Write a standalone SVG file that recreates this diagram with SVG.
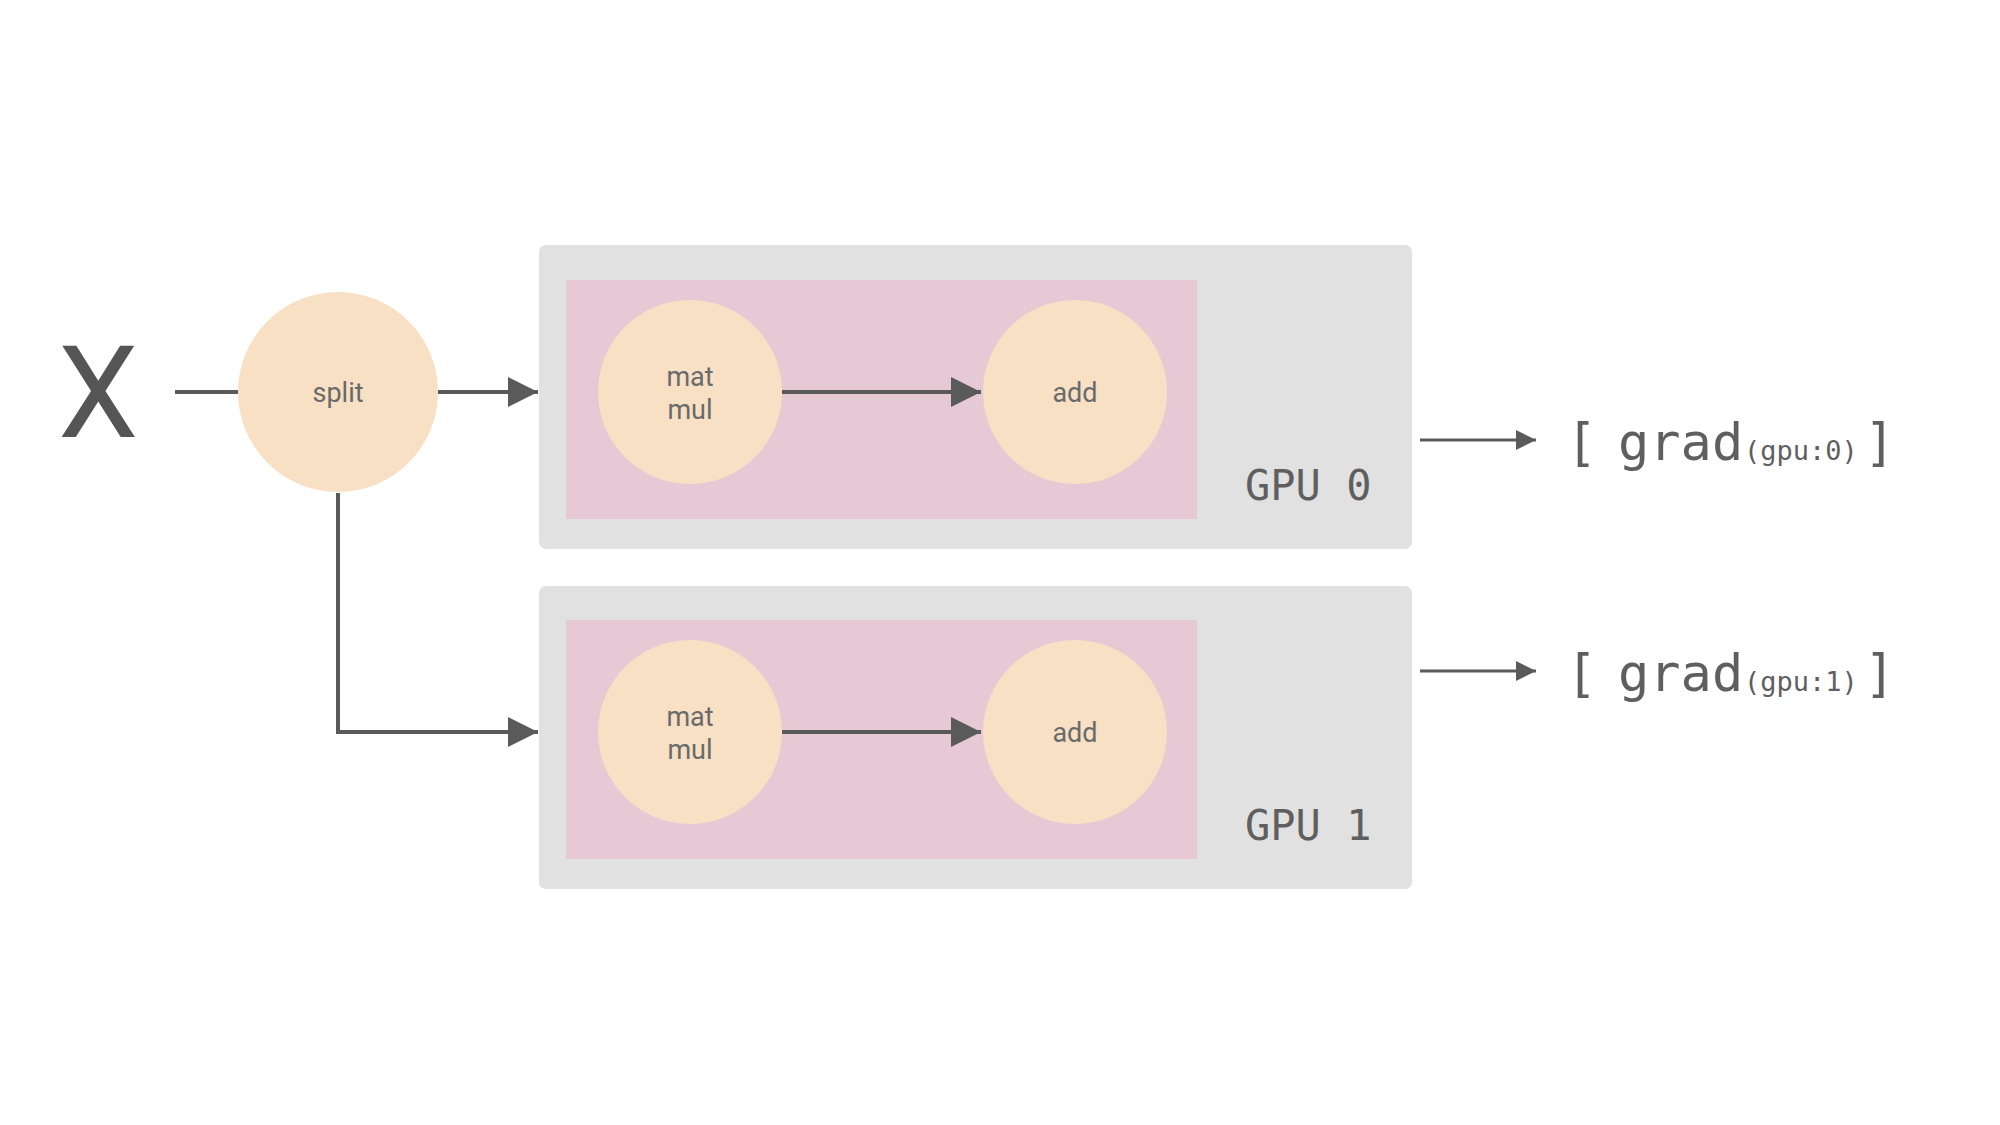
<svg xmlns="http://www.w3.org/2000/svg" width="2000" height="1125" viewBox="0 0 2000 1125">
<defs>
<style>
.gbox{fill:#e1e1e1}
.pbox{fill:#e7c9d5}
.node{fill:#f8e0c5}
.lbl{font-family:Roboto,"Open Sans",sans-serif;font-size:27px;fill:#6a6a6a;text-anchor:middle}
.mono{font-family:"DejaVu Sans Mono","Liberation Mono",monospace;fill:#5f5f5f}
.conn{stroke:#5a5a5a;stroke-width:4;fill:none}
.thin{stroke:#5a5a5a;stroke-width:3;fill:none}
</style>
<marker id="ah" viewBox="0 0 10 10" refX="10" refY="5" markerUnits="userSpaceOnUse" markerWidth="38" markerHeight="30" orient="auto">
<path d="M0,0 L10,5 L0,10 Z" fill="#5a5a5a"/>
</marker>
<marker id="ahs" viewBox="0 0 10 10" refX="10" refY="5" markerUnits="userSpaceOnUse" markerWidth="28" markerHeight="20" orient="auto">
<path d="M0,0 L10,5 L0,10 Z" fill="#5a5a5a"/>
</marker>
</defs>
<rect width="2000" height="1125" fill="#ffffff"/>

<g id="gpu0">
<rect class="gbox" x="539" y="245" width="873" height="304" rx="7"/>
<rect class="pbox" x="566" y="280" width="631" height="239"/>
<text class="mono" x="1245" y="500" font-size="42">GPU 0</text>
</g>
<g id="gpu1">
<rect class="gbox" x="539" y="586" width="873" height="303" rx="7"/>
<rect class="pbox" x="566" y="620" width="631" height="239"/>
<text class="mono" x="1245" y="840" font-size="42">GPU 1</text>
</g>

<g id="connectors">
<line class="conn" x1="175" y1="392" x2="238" y2="392"/>
<line class="conn" x1="438" y1="392" x2="538" y2="392" marker-end="url(#ah)"/>
<polyline class="conn" points="338,493 338,732 538,732" marker-end="url(#ah)"/>
<line class="conn" x1="782" y1="392" x2="981" y2="392" marker-end="url(#ah)"/>
<line class="conn" x1="782" y1="732" x2="981" y2="732" marker-end="url(#ah)"/>
<line class="thin" x1="1420" y1="440" x2="1536" y2="440" marker-end="url(#ahs)"/>
<line class="thin" x1="1420" y1="671" x2="1536" y2="671" marker-end="url(#ahs)"/>
</g>

<g id="x">
<text x="98" y="437" font-family="Roboto,'Open Sans',sans-serif" font-size="128" fill="#555555" text-anchor="middle">X</text>
</g>
<g id="split">
<circle class="node" cx="338" cy="392" r="100"/>
<text class="lbl" x="338" y="402" font-size="29">split</text>
</g>
<g id="matmul0">
<circle class="node" cx="690" cy="392" r="92"/>
<text class="lbl" x="690" y="386">mat</text>
<text class="lbl" x="690" y="419">mul</text>
</g>
<g id="add0">
<circle class="node" cx="1075" cy="392" r="92"/>
<text class="lbl" x="1075" y="402">add</text>
</g>
<g id="matmul1">
<circle class="node" cx="690" cy="732" r="92"/>
<text class="lbl" x="690" y="726">mat</text>
<text class="lbl" x="690" y="759">mul</text>
</g>
<g id="add1">
<circle class="node" cx="1075" cy="732" r="92"/>
<text class="lbl" x="1075" y="742">add</text>
</g>

<g id="grad0">
<text class="mono" x="1566" y="460" font-size="52">[</text>
<text class="mono" x="1618" y="460" font-size="52">grad</text>
<text class="mono" x="1744" y="460" font-size="27">(gpu:0)</text>
<text class="mono" x="1864" y="460" font-size="52">]</text>
</g>
<g id="grad1">
<text class="mono" x="1566" y="691" font-size="52">[</text>
<text class="mono" x="1618" y="691" font-size="52">grad</text>
<text class="mono" x="1744" y="691" font-size="27">(gpu:1)</text>
<text class="mono" x="1864" y="691" font-size="52">]</text>
</g>
</svg>
